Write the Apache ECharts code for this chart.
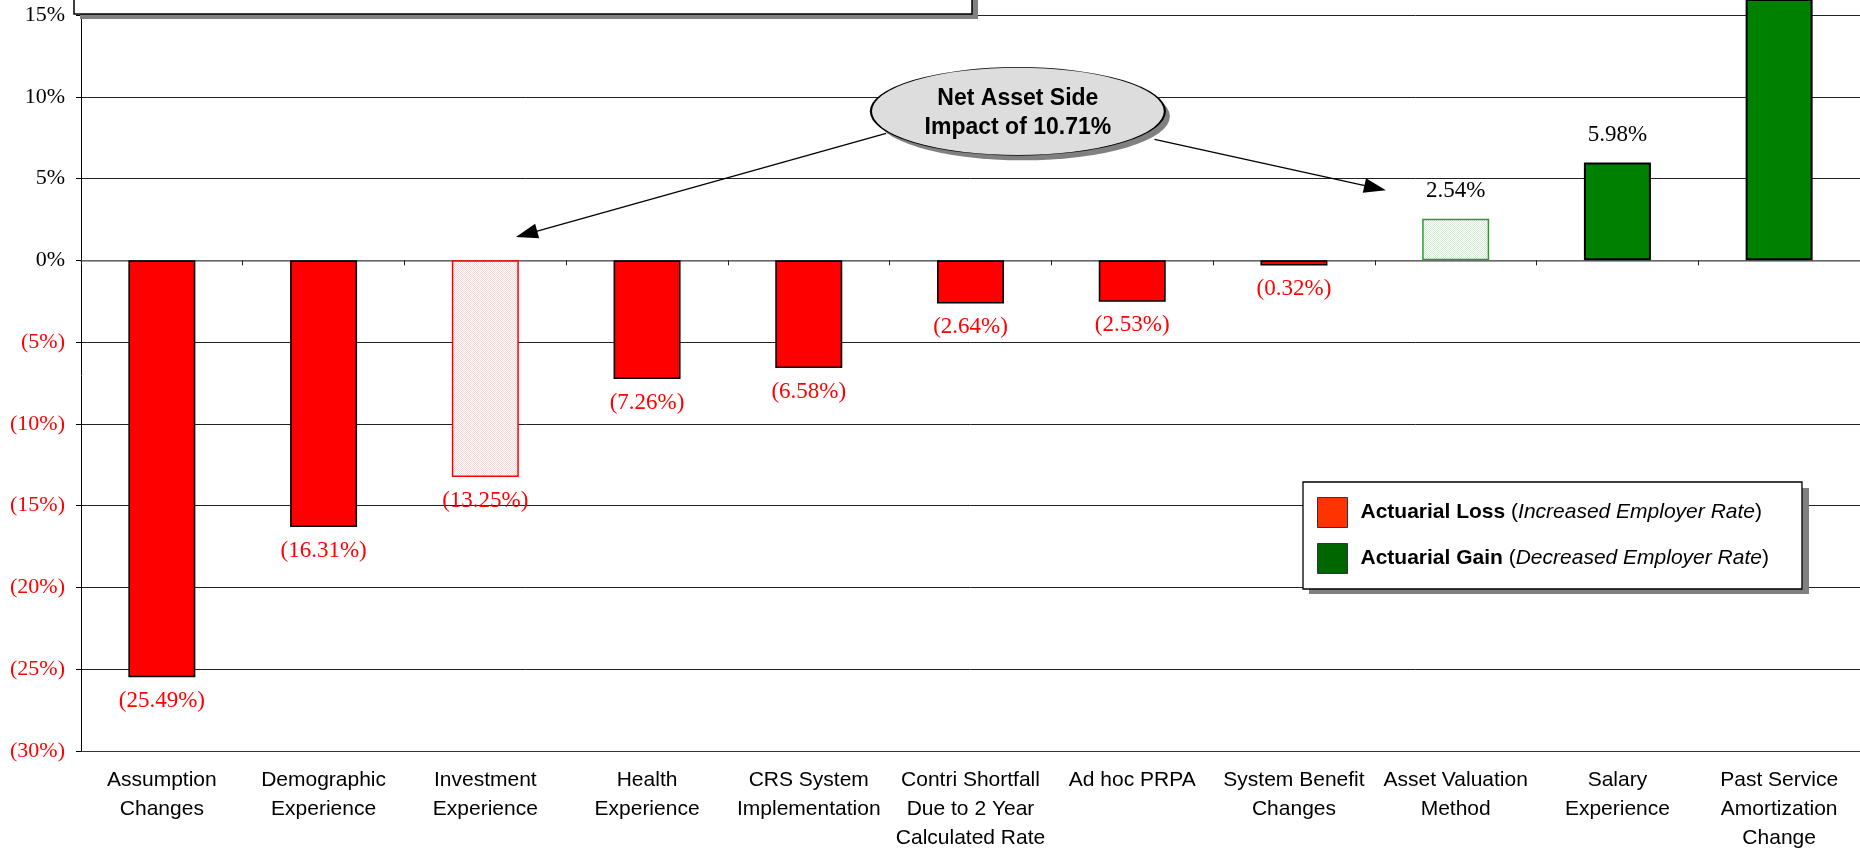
<!DOCTYPE html>
<html><head><meta charset="utf-8">
<script src="https://cdn.jsdelivr.net/npm/echarts@6/dist/echarts.min.js"></script>
<style>html,body{margin:0;padding:0;background:#fff;}#c{width:1860px;height:853px;}</style>
</head><body><div id="c"></div>
<script>
// ---- data ----
const categories = ['Assumption\nChanges', 'Demographic\nExperience', 'Investment\nExperience', 'Health\nExperience',
  'CRS System\nImplementation', 'Contri Shortfall\nDue to 2 Year\nCalculated Rate', 'Ad hoc PRPA',
  'System Benefit\nChanges', 'Asset Valuation\nMethod', 'Salary\nExperience', 'Past Service\nAmortization\nChange'];
const lossValues = [-25.49, -16.31, -13.25, -7.26, -6.58, -2.64, -2.53, -0.32, null, null, null];
const gainValues = [null, null, null, null, null, null, null, null, 2.54, 5.98, 18.9];
const hatchedIndex = [2, 8];               // asset-side items (dotted fill)
const yMin = -30, yMax = 15.92, yStep = 5; // top of the visible (cropped) plot
const legendNames = ['Actuarial Loss', 'Actuarial Gain'];
const legendNotes = ['Increased Employer Rate', 'Decreased Employer Rate'];
const calloutText = 'Net Asset Side\nImpact of 10.71%';
// annotation anchors in [category position, value %]
const calloutAt = [5.293, 9.11];
const arrow1 = [[4.478, 7.77], [2.255, 1.61]];
const arrow2 = [[6.138, 7.40], [7.502, 4.43]];

function pct(v) { return v < 0 ? '(' + (-v).toFixed(2) + '%)' : v.toFixed(2) + '%'; }
function pattern(bg, dot) {
  const c = document.createElement('canvas'); c.width = 2; c.height = 2;
  const g = c.getContext('2d'); g.fillStyle = bg; g.fillRect(0, 0, 2, 2);
  g.fillStyle = dot; g.fillRect(0, 0, 1, 1); g.fillRect(1, 1, 1, 1);
  return { image: c, repeat: 'repeat' };
}
const pinkFill = pattern('#fffcfc', '#f9d6d6');
const greenFill = pattern('#fbfdfb', '#d3ead3');

const lossData = lossValues.map((v, i) => v === null ? '-' :
  (hatchedIndex.includes(i) ? { value: v, itemStyle: { color: pinkFill, borderColor: '#ff0000', borderWidth: 1.5 } } : v));
const gainData = gainValues.map((v, i) => v === null ? '-' :
  (hatchedIndex.includes(i) ? { value: v, itemStyle: { color: greenFill, borderColor: '#2e9a2e', borderWidth: 1.5 } } : v));

const chart = echarts.init(document.getElementById('c'), null, { renderer: 'canvas' });
const serif = 'Liberation Serif', sans = 'Liberation Sans';
const shadowGray = '#808080';
chart.setOption({
  animation: false,
  backgroundColor: '#fff',
  grid: { left: 81, right: -4, top: 0, bottom: 98, containLabel: false },
  xAxis: [
    { type: 'category', data: categories, position: 'bottom',
      axisLine: { show: true, onZero: true, lineStyle: { color: '#808080', width: 1.5 } },
      axisTick: { show: true, length: 5, lineStyle: { color: '#222' } },
      axisLabel: { show: false }, splitLine: { show: false } },
    { type: 'category', data: categories, position: 'bottom',
      axisLine: { show: true, onZero: false, lineStyle: { color: '#333', width: 1 } },
      axisTick: { show: false },
      axisLabel: { show: true, interval: 0, margin: 15, color: '#000', fontFamily: sans, fontSize: 21, lineHeight: 29 } },
    { type: 'value', min: -0.5, max: 10.5, show: false }
  ],
  yAxis: [{
    type: 'value', min: yMin, max: yMax, interval: yStep,
    axisLine: { show: true, onZero: false, lineStyle: { color: '#000', width: 1 } },
    axisTick: { show: true, length: 5, lineStyle: { color: '#000' } },
    splitLine: { show: true, showMaxLine: false, lineStyle: { color: '#222', width: 1 } },
    axisLabel: { margin: 16, fontFamily: serif, fontSize: 22,
      formatter: v => (Math.abs(v % yStep) > 1e-9) ? '' : (v < 0 ? '(' + (-v) + '%)' : v + '%'),
      color: v => Number(v) < 0 ? '#ff0000' : '#000' }
  }],
  legend: {
    left: 1303, top: 482, orient: 'vertical', icon: 'rect', itemWidth: 30, itemHeight: 30, itemGap: 15,
    padding: [15, 33, 15, 14], backgroundColor: '#fff', borderColor: '#000', borderWidth: 1.3,
    selectedMode: false, z: 5,
    data: [
      { name: legendNames[0], itemStyle: { color: '#ff3300', borderColor: '#333', borderWidth: 1 } },
      { name: legendNames[1], itemStyle: { color: '#006600', borderColor: '#333', borderWidth: 1 } }
    ],
    formatter: name => '{b|' + name + '} ({i|' + legendNotes[legendNames.indexOf(name)] + '})',
    textStyle: { fontFamily: sans, fontSize: 21, color: '#000', padding: [0, 0, 0, 8],
      rich: { b: { fontWeight: 'bold', fontFamily: sans, fontSize: 21, color: '#000' },
              i: { fontStyle: 'italic', fontFamily: sans, fontSize: 21, color: '#000' } } }
  },
  graphic: [
    // drop shadows drawn as offset gray panels (legend box, cropped title box)
    { type: 'rect', z: 4, silent: true, shape: { x: 1309, y: 488, width: 500, height: 106 }, style: { fill: shadowGray } },
    { type: 'rect', z: 100, silent: true, shape: { x: 80, y: -35, width: 898, height: 54 }, style: { fill: shadowGray } },
    { type: 'rect', z: 101, silent: true, shape: { x: 74, y: -40, width: 898, height: 54 },
      style: { fill: '#fff', stroke: '#000', lineWidth: 1.5 } }
  ],
  series: [
    { name: legendNames[0], type: 'bar', xAxisIndex: 0, yAxisIndex: 0, barWidth: 67, barGap: '-100%',
      itemStyle: { color: '#ff0000', borderColor: '#000', borderWidth: 1.6 },
      label: { show: true, position: 'bottom', distance: 12, color: '#ff0000', fontFamily: serif, fontSize: 23,
        formatter: p => pct(p.value) },
      data: lossData },
    { name: legendNames[1], type: 'bar', xAxisIndex: 0, yAxisIndex: 0, barWidth: 67, barGap: '-100%',
      itemStyle: { color: '#008000', borderColor: '#000', borderWidth: 2 },
      label: { show: true, position: 'top', distance: 16, color: '#000', fontFamily: serif, fontSize: 23,
        formatter: p => pct(p.value) },
      data: gainData },
    { name: 'annotation', type: 'scatter', xAxisIndex: 2, yAxisIndex: 0, data: [], silent: true,
      markLine: { silent: true, symbol: ['none', 'triangle'], symbolSize: 20,
        lineStyle: { color: '#000', width: 1.3, type: 'solid' }, label: { show: false },
        emphasis: { disabled: true },
        data: [
          [{ coord: arrow1[0] }, { coord: arrow1[1], symbolSize: [15, 22] }],
          [{ coord: arrow2[0] }, { coord: arrow2[1], symbolSize: [15, 22] }]
        ] },
      markPoint: { silent: true, emphasis: { disabled: true },
        data: [
          { coord: calloutAt, symbol: 'circle', symbolSize: [294, 88], symbolOffset: [5, 5],
            itemStyle: { color: shadowGray, borderWidth: 0 }, label: { show: false } },
          { coord: calloutAt, symbol: 'circle', symbolSize: [294, 88],
            itemStyle: { color: '#dddddd', borderColor: '#000', borderWidth: 1.2 },
            label: { show: true, position: 'inside', formatter: calloutText, color: '#000', fontWeight: 'bold',
              fontFamily: sans, fontSize: 23, lineHeight: 29, offset: [0, 2] } }
        ] } }
  ]
});
</script></body></html>
